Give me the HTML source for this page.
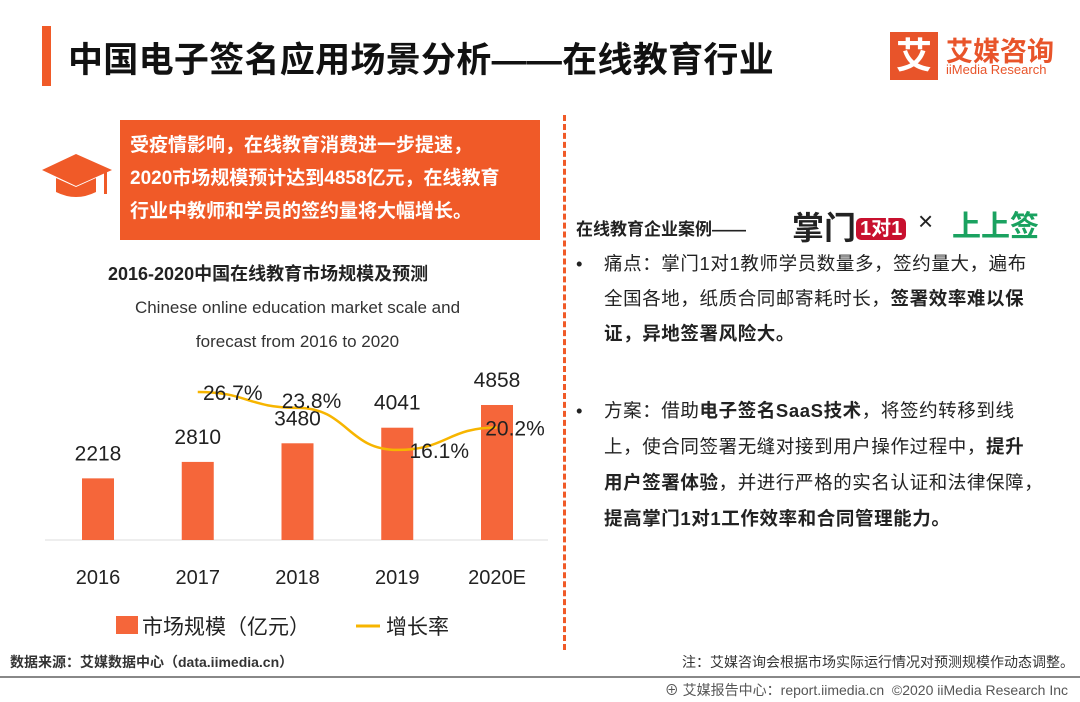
<!DOCTYPE html>
<html><head><meta charset="utf-8"><style>
body{margin:0;width:1080px;height:702px;background:#fff;position:relative;overflow:hidden;font-family:"Liberation Sans","Noto Sans CJK SC",sans-serif;color:#222}
.a{position:absolute;white-space:nowrap}
</style></head><body>
<div class="a" style="left:42px;top:26px;width:9px;height:60px;background:#f05a28"></div>
<div class="a" style="left:68px;top:32px;font-size:35px;font-weight:bold;color:#111;letter-spacing:0.3px">中国电子签名应用场景分析——在线教育行业</div>
<div class="a" style="left:890px;top:32px;width:48px;height:48px;background:#e8542a;color:#fff;font-size:36px;font-weight:bold;text-align:center;line-height:48px">艾</div>
<div class="a" style="left:946px;top:30px;font-size:27px;font-weight:bold;color:#e8542a">艾媒咨询</div>
<div class="a" style="left:946px;top:62px;font-size:13px;color:#e8542a">iiMedia Research</div>

<svg class="a" style="left:40px;top:150px" width="75" height="60"><polygon points="36,4 72,20 36,36 2,20" fill="#f05a28"/><path d="M16,28 v14 q20,10 40,0 v-14 l-20,9z" fill="#f05a28"/><rect x="64" y="22" width="3" height="22" fill="#f05a28"/></svg>
<div class="a" style="left:120px;top:120px;width:420px;height:120px;background:#f05a28;color:#fff;font-size:19px;font-weight:bold;line-height:33px;padding:9px 0 0 10px;box-sizing:border-box">受疫情影响，在线教育消费进一步提速，<br>2020市场规模预计达到4858亿元，在线教育<br>行业中教师和学员的签约量将大幅增长。</div>

<div class="a" style="left:108px;top:260px;font-size:18px;font-weight:bold">2016-2020中国在线教育市场规模及预测</div>
<div class="a" style="left:0;width:595px;text-align:center;top:291px;font-size:17px;line-height:34px;color:#333;white-space:normal">Chinese online education market scale and<br>forecast from 2016 to 2020</div>

<svg class="a" id="chart" style="left:0;top:0" width="560" height="650"></svg>

<div class="a" style="left:563px;top:115px;height:535px;border-left:3px dashed #f05a28"></div>

<div class="a" style="left:576px;top:215px;font-size:17px;font-weight:bold">在线教育企业案例——</div>
<div class="a" style="left:792px;top:203px;font-size:32px;font-weight:bold;color:#222">掌门<span style="background:#c8102e;color:#fff;font-size:20px;border-radius:5px;padding:0 4px;vertical-align:4px">1对1</span></div>
<div class="a" style="left:918px;top:206px;font-size:26px">×</div>
<div class="a" style="left:952px;top:203px;font-size:29px;font-weight:bold;color:#1aa260">上上签</div>
<div class="a" style="left:576px;top:246px;font-size:18.5px;line-height:35px;padding-left:28px;letter-spacing:0.6px">
<span style="position:absolute;left:0">•</span>痛点：掌门1对1教师学员数量多，签约量大，遍布<br>全国各地，纸质合同邮寄耗时长，<b>签署效率难以保</b><br><b>证，异地签署风险大。</b></div>
<div class="a" style="left:576px;top:393px;font-size:18.5px;line-height:36px;padding-left:28px;letter-spacing:0.6px">
<span style="position:absolute;left:0">•</span>方案：借助<b>电子签名SaaS技术</b>，将签约转移到线<br>上，使合同签署无缝对接到用户操作过程中，<b>提升</b><br><b>用户签署体验</b>，并进行严格的实名认证和法律保障，<br><b>提高掌门1对1工作效率和合同管理能力。</b></div>

<div class="a" style="left:10px;top:652px;font-size:14px;font-weight:bold;color:#333">数据来源：艾媒数据中心（data.iimedia.cn）</div>
<div class="a" style="right:6px;top:652px;font-size:14px;color:#333">注：艾媒咨询会根据市场实际运行情况对预测规模作动态调整。</div>
<div class="a" style="left:0;top:676px;width:1080px;height:2px;background:#888"></div>
<div class="a" style="right:12px;top:680px;font-size:14px;color:#555">⊕ 艾媒报告中心：report.iimedia.cn &nbsp;©2020 iiMedia Research Inc</div>

<script>
const categories=["2016","2017","2018","2019","2020E"];
const scaleValues=[2218,2810,3480,4041,4858];
const growthRates=[null,26.7,23.8,16.1,20.2];
const svg=document.getElementById('chart');
const NS='http://www.w3.org/2000/svg';
function mk(t,a){const e=document.createElementNS(NS,t);for(const k in a)e.setAttribute(k,a[k]);svg.appendChild(e);return e;}
const xPos=i=>98+i*99.75;
const yBar=v=>540-v*0.02779;
const yRate=r=>538-r*5.47;
const g=mk('line',{x1:45,x2:548,y1:540,y2:540,stroke:'#ddd'});

categories.forEach((c,i)=>{
 const v=scaleValues[i],x=xPos(i);
 const b=mk('rect',{x:x-16,y:yBar(v),width:32,height:540-yBar(v),fill:'#f5663a'});
 
 const t=mk('text',{x:x,y:yBar(v)-18,'text-anchor':'middle','font-size':21,fill:'#222'});t.textContent=v;
 
 const l=mk('text',{x:x,y:584,'text-anchor':'middle','font-size':20,fill:'#222'});l.textContent=c;
 
});
const pts=[];growthRates.forEach((r,i)=>{if(r!==null)pts.push([xPos(i),yRate(r),r]);});
let d='M'+pts[0][0]+','+pts[0][1];
for(let i=1;i<pts.length;i++){const p=pts[i-1],q=pts[i],mx=(p[0]+q[0])/2;d+=` C${mx},${p[1]} ${mx},${q[1]} ${q[0]},${q[1]}`;}
const ln=mk('path',{d:d,fill:'none',stroke:'#f7b500','stroke-width':2.5});

const off=[[35,8],[14,0],[42,8],[18,8]];
pts.forEach((p,i)=>{const t=mk('text',{x:p[0]+off[i][0],y:p[1]+off[i][1],'text-anchor':'middle','font-size':21,fill:'#222'});t.textContent=p[2].toFixed(1)+'%';
 });
const lr=mk('rect',{x:116,y:616,width:22,height:18,fill:'#f5663a'});

const lt=mk('text',{x:142,y:634,'font-size':21,fill:'#222'});lt.textContent='市场规模（亿元）';

const ll=mk('line',{x1:356,x2:380,y1:626,y2:626,stroke:'#f7b500','stroke-width':3});

const lt2=mk('text',{x:386,y:634,'font-size':21,fill:'#222'});lt2.textContent='增长率';

</script>
</body></html>
